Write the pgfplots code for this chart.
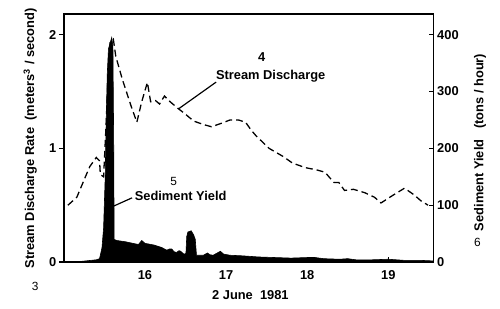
\documentclass[border=0pt]{standalone}
\usepackage{fontspec}
\setmainfont{Liberation Sans}
\usepackage{pgfplots}
\pgfplotsset{compat=1.18}
\begin{document}
\newcommand\f{\fontsize{13}{15.6}\selectfont\bfseries}
\newcommand\g{\fontsize{12}{14}\selectfont}
\begin{tikzpicture}
\begin{axis}[name=ax, scale only axis, width=374pt, height=251pt,
  xmin=15, xmax=19.56, ymin=0, ymax=2.183,
  clip=false,
  axis line style={line width=1.4pt},
  xtick={16,17,18,19}, ytick={0,1,2},
  xtick pos=bottom, ytick pos=left,
  major tick length=5pt,
  tick style={line width=1.2pt, black},
  major y tick style={xshift=-5pt},
  /pgf/number format/assume math mode=true,
  ticklabel style={font=\f},
  xticklabel style={yshift=-5pt},
  yticklabel style={xshift=-4pt},
]
\addplot[black, line width=1.3pt, dash pattern=on 7pt off 4pt] coordinates {
(15.05,0.50) (15.16,0.57) (15.26,0.74) (15.32,0.84) (15.40,0.92) (15.44,0.89)
(15.45,0.77) (15.49,0.75) (15.52,1.20) (15.55,1.70) (15.57,1.93) (15.61,1.96)
(15.64,1.81) (15.72,1.61) (15.83,1.37) (15.90,1.23) (15.96,1.41) (16.03,1.58)
(16.07,1.41) (16.13,1.42) (16.18,1.39) (16.24,1.46) (16.31,1.41) (16.41,1.35)
(16.50,1.30) (16.60,1.24) (16.72,1.21) (16.82,1.19) (16.94,1.22) (17.05,1.25)
(17.15,1.25) (17.24,1.23) (17.31,1.16) (17.37,1.11) (17.53,1.00) (17.70,0.93)
(17.82,0.87) (17.98,0.83) (18.12,0.81) (18.22,0.79) (18.28,0.74) (18.33,0.70)
(18.39,0.70) (18.46,0.63) (18.57,0.64) (18.71,0.61) (18.83,0.57) (18.91,0.52)
(19.04,0.58) (19.20,0.65) (19.32,0.59) (19.40,0.54) (19.49,0.50)
};
\coordinate (bl) at (rel axis cs:0,0);
\coordinate (tr) at (rel axis cs:1,1);
% annotations
\node[font=\g] at (axis cs:14.646,-0.217) {3};
\node[font=\f] at (axis cs:17.44,1.80) {4};
\node[font=\f] at (axis cs:17.55,1.635) {Stream Discharge};
\node[font=\g] at (axis cs:16.354,0.713) {5};
\node[font=\f] at (axis cs:16.44,0.583) {Sediment Yield};
\node[font=\g] at (axis cs:20.10,0.174) {6};
\node[font=\f] at (axis cs:17.30,-0.287) {2 June\ \ 1981};
\node[font=\f, rotate=90] at (axis cs:14.585,1.087) {Stream Discharge Rate\ \ (meters$^{\mathbf{3}}$ / second)};
\node[font=\f, rotate=90] at (axis cs:20.13,1.052) {Sediment Yield\ \ \ (tons / hour)};
\draw[line width=1.2pt] (axis cs:16.878,1.583) -- (axis cs:16.415,1.348);
\draw[line width=1.2pt] (axis cs:15.841,0.565) -- (axis cs:15.598,0.487);
\end{axis}
\begin{axis}[scale only axis, width=374pt, height=251pt,
  xmin=15, xmax=19.56, ymin=0, ymax=436.6,
  axis x line=none, axis y line*=right,
  axis line style={line width=1.4pt},
  ytick={0,100,200,300,400}, ytick pos=right,
  major tick length=5pt,
  tick style={line width=1.2pt, black},
  /pgf/number format/assume math mode=true,
  ticklabel style={font=\f},
]
\addplot[fill=black, draw=black, line width=0.6pt] coordinates {
(15.00,0) (15.20,1) (15.40,4) (15.44,6) (15.47,25) (15.49,60) (15.51,150)
(15.52,235) (15.535,330) (15.55,375) (15.57,385) (15.59,395) (15.605,380)
(15.615,200) (15.62,40) (15.65,38) (15.75,36) (15.85,33) (15.92,31) (15.96,38)
(16.00,33) (16.11,30) (16.20,26) (16.27,21) (16.30,23) (16.33,23) (16.36,18)
(16.39,17) (16.42,20) (16.44,19) (16.48,14) (16.505,15) (16.515,45) (16.53,53)
(16.57,55) (16.60,48) (16.62,40) (16.635,12) (16.72,12) (16.77,16) (16.80,13)
(16.84,12) (16.93,19) (16.97,14) (17.05,12) (17.2,11) (17.4,9) (17.6,8)
(17.8,7) (18.0,8) (18.1,8) (18.2,6) (18.4,5) (18.5,6) (18.6,4) (18.8,4)
(19.0,5) (19.2,3) (19.4,3) (19.56,2) (19.56,0)
} \closedcycle;
\end{axis}
\pgfresetboundingbox
\path ([shift={(-59pt,-47pt)}]bl) rectangle ([shift={(67pt,14pt)}]tr);
\end{tikzpicture}
\end{document}
